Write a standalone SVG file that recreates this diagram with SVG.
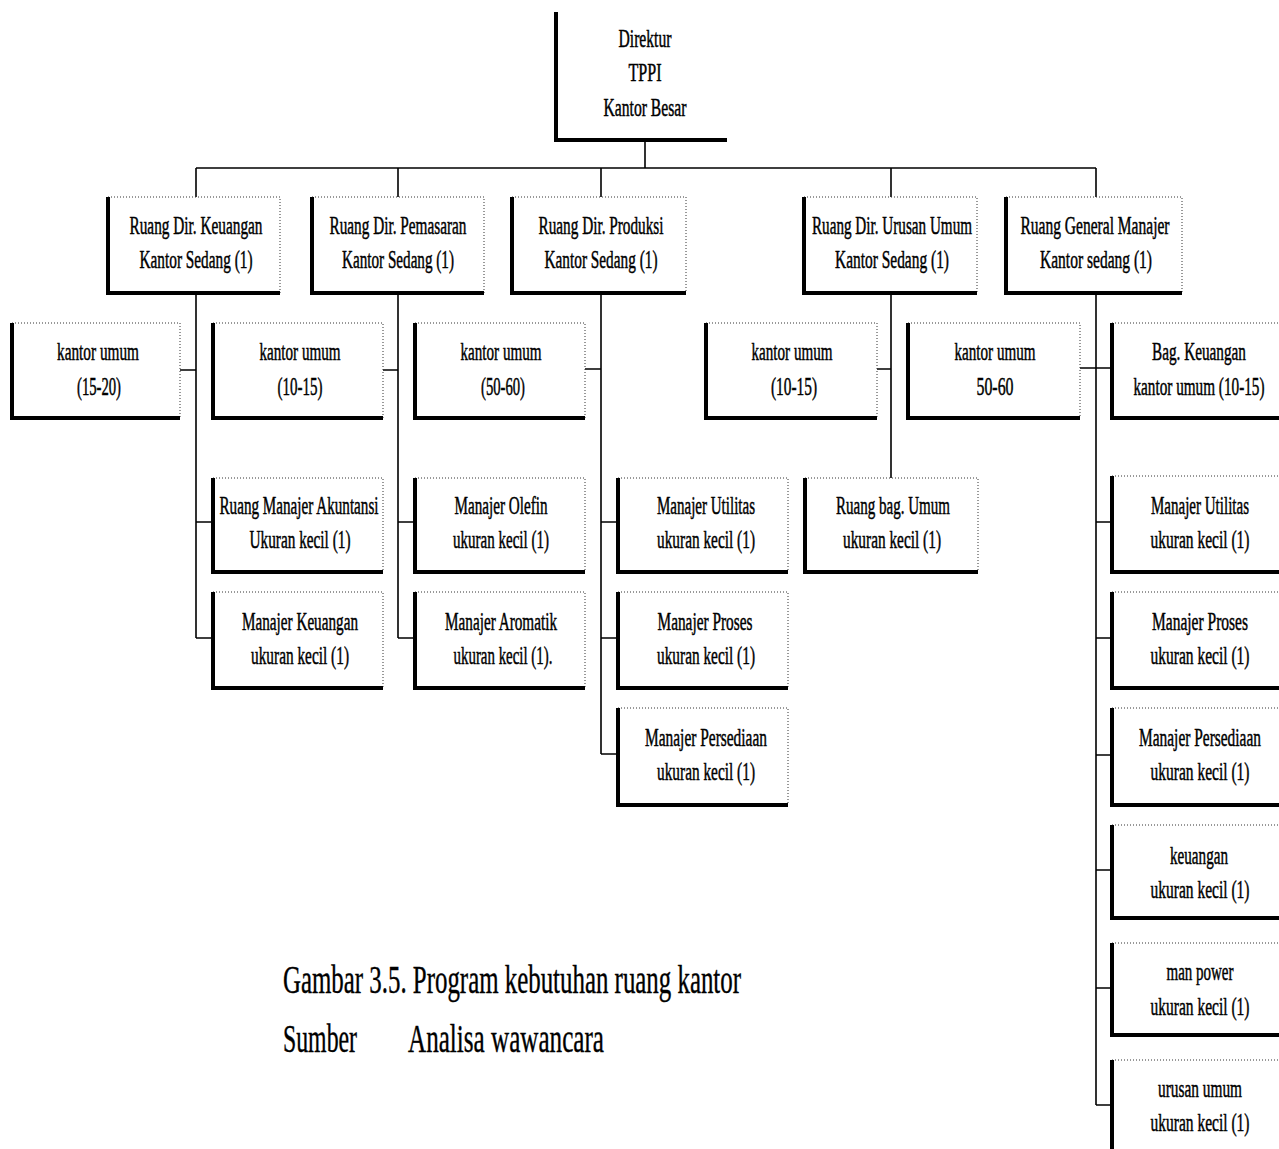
<svg xmlns="http://www.w3.org/2000/svg" width="1279" height="1149" viewBox="0 0 1279 1149">
<style>
.bg{fill:#fff}
.thick{fill:none;stroke:#000;stroke-width:4}
.dot{fill:none;stroke:#333;stroke-width:1;stroke-dasharray:1 2}
.conn{fill:none;stroke:#000;stroke-width:1.6}
.t{font-family:"Liberation Serif","Times New Roman",serif;font-size:26px;text-anchor:middle;fill:#000;stroke:#000;stroke-width:0.5}
.cap{font-family:"Liberation Serif","Times New Roman",serif;font-size:40px;fill:#000;stroke:#000;stroke-width:0.4}
</style>
<rect class="bg" x="0" y="0" width="1279" height="1149"/>
<g id="connectors">
<path class="conn" d="M645 140V168M196 168H1096M196 168V197M398 168V197M601 168V197M891 168V197M1096 168V197"/>
<path class="conn" d="M196 293V638M180 370H196M196 522H213M196 638H213"/>
<path class="conn" d="M398 293V638M383 370H398M398 522H415M398 638H415"/>
<path class="conn" d="M601 293V754M585 369H601M601 522H618M601 638H618M601 754H618"/>
<path class="conn" d="M891 293V478M877 369H891"/>
<path class="conn" d="M1096 293V1105M1080 368H1112M1096 522H1112M1096 638H1112M1096 755H1112M1096 870H1112M1096 988H1112M1096 1105H1112"/>
</g>
<g id="n-direktur">
<path class="thick" d="M556 12V140H727"/>
<text class="t" x="645" y="47" textLength="53" lengthAdjust="spacingAndGlyphs">Direktur</text>
<text class="t" x="645" y="81" textLength="33" lengthAdjust="spacingAndGlyphs">TPPI</text>
<text class="t" x="645" y="116" textLength="83" lengthAdjust="spacingAndGlyphs">Kantor Besar</text>
</g>
<g id="n-keuangan">
<path class="dot" d="M108 197H280V293"/><path class="thick" d="M108 197V293H280"/>
<text class="t" x="196" y="234" textLength="133" lengthAdjust="spacingAndGlyphs">Ruang Dir. Keuangan</text>
<text class="t" x="196" y="268" textLength="113" lengthAdjust="spacingAndGlyphs">Kantor Sedang (1)</text>
</g>
<g id="n-pemasaran">
<path class="dot" d="M312 197H484V293"/><path class="thick" d="M312 197V293H484"/>
<text class="t" x="398" y="234" textLength="137" lengthAdjust="spacingAndGlyphs">Ruang Dir. Pemasaran</text>
<text class="t" x="398" y="268" textLength="112" lengthAdjust="spacingAndGlyphs">Kantor Sedang (1)</text>
</g>
<g id="n-produksi">
<path class="dot" d="M512 197H686V293"/><path class="thick" d="M512 197V293H686"/>
<text class="t" x="601" y="234" textLength="125" lengthAdjust="spacingAndGlyphs">Ruang Dir. Produksi</text>
<text class="t" x="601" y="268" textLength="113" lengthAdjust="spacingAndGlyphs">Kantor Sedang (1)</text>
</g>
<g id="n-urusan">
<path class="dot" d="M804 197H977V293"/><path class="thick" d="M804 197V293H977"/>
<text class="t" x="892" y="234" textLength="160" lengthAdjust="spacingAndGlyphs">Ruang Dir. Urusan Umum</text>
<text class="t" x="892" y="268" textLength="114" lengthAdjust="spacingAndGlyphs">Kantor Sedang (1)</text>
</g>
<g id="n-gm">
<path class="dot" d="M1006 197H1182V293"/><path class="thick" d="M1006 197V293H1182"/>
<text class="t" x="1095" y="234" textLength="149" lengthAdjust="spacingAndGlyphs">Ruang General Manajer</text>
<text class="t" x="1096" y="268" textLength="112" lengthAdjust="spacingAndGlyphs">Kantor sedang (1)</text>
</g>
<g id="n-ku-a">
<path class="dot" d="M12 323H180V418"/><path class="thick" d="M12 323V418H180"/>
<text class="t" x="98" y="360" textLength="82" lengthAdjust="spacingAndGlyphs">kantor umum</text>
<text class="t" x="99" y="395" textLength="44" lengthAdjust="spacingAndGlyphs">(15-20)</text>
</g>
<g id="n-ku-b">
<path class="dot" d="M213 323H383V418"/><path class="thick" d="M213 323V418H383"/>
<text class="t" x="300" y="360" textLength="81" lengthAdjust="spacingAndGlyphs">kantor umum</text>
<text class="t" x="300" y="395" textLength="45" lengthAdjust="spacingAndGlyphs">(10-15)</text>
</g>
<g id="n-ku-c">
<path class="dot" d="M415 323H585V418"/><path class="thick" d="M415 323V418H585"/>
<text class="t" x="501" y="360" textLength="81" lengthAdjust="spacingAndGlyphs">kantor umum</text>
<text class="t" x="503" y="395" textLength="44" lengthAdjust="spacingAndGlyphs">(50-60)</text>
</g>
<g id="n-ku-d">
<path class="dot" d="M706 323H877V418"/><path class="thick" d="M706 323V418H877"/>
<text class="t" x="792" y="360" textLength="81" lengthAdjust="spacingAndGlyphs">kantor umum</text>
<text class="t" x="794" y="395" textLength="46" lengthAdjust="spacingAndGlyphs">(10-15)</text>
</g>
<g id="n-ku-e">
<path class="dot" d="M908 323H1080V418"/><path class="thick" d="M908 323V418H1080"/>
<text class="t" x="995" y="360" textLength="81" lengthAdjust="spacingAndGlyphs">kantor umum</text>
<text class="t" x="995" y="395" textLength="37" lengthAdjust="spacingAndGlyphs">50-60</text>
</g>
<g id="n-bag-keuangan">
<path class="dot" d="M1112 323H1279"/><path class="thick" d="M1112 323V418H1279"/>
<text class="t" x="1199" y="360" textLength="94" lengthAdjust="spacingAndGlyphs">Bag. Keuangan</text>
<text class="t" x="1199" y="395" textLength="131" lengthAdjust="spacingAndGlyphs">kantor umum (10-15)</text>
</g>
<g id="n-akuntansi">
<path class="dot" d="M213 478H383V572"/><path class="thick" d="M213 478V572H383"/>
<text class="t" x="299" y="514" textLength="159" lengthAdjust="spacingAndGlyphs">Ruang Manajer Akuntansi</text>
<text class="t" x="300" y="548" textLength="101" lengthAdjust="spacingAndGlyphs">Ukuran kecil (1)</text>
</g>
<g id="n-mkeuangan">
<path class="dot" d="M213 592H383V688"/><path class="thick" d="M213 592V688H383"/>
<text class="t" x="300" y="630" textLength="116" lengthAdjust="spacingAndGlyphs">Manajer Keuangan</text>
<text class="t" x="300" y="664" textLength="98" lengthAdjust="spacingAndGlyphs">ukuran kecil (1)</text>
</g>
<g id="n-olefin">
<path class="dot" d="M415 478H585V572"/><path class="thick" d="M415 478V572H585"/>
<text class="t" x="501" y="514" textLength="93" lengthAdjust="spacingAndGlyphs">Manajer Olefin</text>
<text class="t" x="501" y="548" textLength="96" lengthAdjust="spacingAndGlyphs">ukuran kecil (1)</text>
</g>
<g id="n-aromatik">
<path class="dot" d="M415 592H585V688"/><path class="thick" d="M415 592V688H585"/>
<text class="t" x="501" y="630" textLength="112" lengthAdjust="spacingAndGlyphs">Manajer Aromatik</text>
<text class="t" x="503" y="664" textLength="99" lengthAdjust="spacingAndGlyphs">ukuran kecil (1).</text>
</g>
<g id="n-utilitas-p">
<path class="dot" d="M618 478H788V572"/><path class="thick" d="M618 478V572H788"/>
<text class="t" x="706" y="514" textLength="98" lengthAdjust="spacingAndGlyphs">Manajer Utilitas</text>
<text class="t" x="706" y="548" textLength="98" lengthAdjust="spacingAndGlyphs">ukuran kecil (1)</text>
</g>
<g id="n-proses-p">
<path class="dot" d="M618 592H788V688"/><path class="thick" d="M618 592V688H788"/>
<text class="t" x="705" y="630" textLength="95" lengthAdjust="spacingAndGlyphs">Manajer Proses</text>
<text class="t" x="706" y="664" textLength="98" lengthAdjust="spacingAndGlyphs">ukuran kecil (1)</text>
</g>
<g id="n-persediaan-p">
<path class="dot" d="M618 708H788V805"/><path class="thick" d="M618 708V805H788"/>
<text class="t" x="706" y="746" textLength="122" lengthAdjust="spacingAndGlyphs">Manajer Persediaan</text>
<text class="t" x="706" y="780" textLength="98" lengthAdjust="spacingAndGlyphs">ukuran kecil (1)</text>
</g>
<g id="n-bag-umum">
<path class="dot" d="M805 478H978V572"/><path class="thick" d="M805 478V572H978"/>
<text class="t" x="893" y="514" textLength="114" lengthAdjust="spacingAndGlyphs">Ruang bag. Umum</text>
<text class="t" x="892" y="548" textLength="98" lengthAdjust="spacingAndGlyphs">ukuran kecil (1)</text>
</g>
<g id="n-utilitas-g">
<path class="dot" d="M1112 476H1279"/><path class="thick" d="M1112 476V572H1279"/>
<text class="t" x="1200" y="514" textLength="98" lengthAdjust="spacingAndGlyphs">Manajer Utilitas</text>
<text class="t" x="1200" y="548" textLength="99" lengthAdjust="spacingAndGlyphs">ukuran kecil (1)</text>
</g>
<g id="n-proses-g">
<path class="dot" d="M1112 592H1279"/><path class="thick" d="M1112 592V688H1279"/>
<text class="t" x="1200" y="630" textLength="96" lengthAdjust="spacingAndGlyphs">Manajer Proses</text>
<text class="t" x="1200" y="664" textLength="99" lengthAdjust="spacingAndGlyphs">ukuran kecil (1)</text>
</g>
<g id="n-persediaan-g">
<path class="dot" d="M1112 708H1279"/><path class="thick" d="M1112 708V805H1279"/>
<text class="t" x="1200" y="746" textLength="122" lengthAdjust="spacingAndGlyphs">Manajer Persediaan</text>
<text class="t" x="1200" y="780" textLength="99" lengthAdjust="spacingAndGlyphs">ukuran kecil (1)</text>
</g>
<g id="n-keuangan-g">
<path class="dot" d="M1112 825H1279"/><path class="thick" d="M1112 825V918H1279"/>
<text class="t" x="1199" y="864" textLength="58" lengthAdjust="spacingAndGlyphs">keuangan</text>
<text class="t" x="1200" y="898" textLength="99" lengthAdjust="spacingAndGlyphs">ukuran kecil (1)</text>
</g>
<g id="n-manpower">
<path class="dot" d="M1112 943H1279"/><path class="thick" d="M1112 943V1035H1279"/>
<text class="t" x="1200" y="980" textLength="67" lengthAdjust="spacingAndGlyphs">man power</text>
<text class="t" x="1200" y="1015" textLength="99" lengthAdjust="spacingAndGlyphs">ukuran kecil (1)</text>
</g>
<g id="n-urusan-umum">
<path class="dot" d="M1112 1060H1279"/><path class="thick" d="M1112 1060V1149"/>
<text class="t" x="1200" y="1097" textLength="84" lengthAdjust="spacingAndGlyphs">urusan umum</text>
<text class="t" x="1200" y="1131" textLength="99" lengthAdjust="spacingAndGlyphs">ukuran kecil (1)</text>
</g>
<g id="caption">
<text class="cap" x="283" y="993" textLength="458" lengthAdjust="spacingAndGlyphs">Gambar 3.5. Program kebutuhan ruang kantor</text>
<text class="cap" x="283" y="1052" textLength="74" lengthAdjust="spacingAndGlyphs">Sumber</text>
<text class="cap" x="408" y="1052" textLength="196" lengthAdjust="spacingAndGlyphs">Analisa wawancara</text>
</g>
</svg>
